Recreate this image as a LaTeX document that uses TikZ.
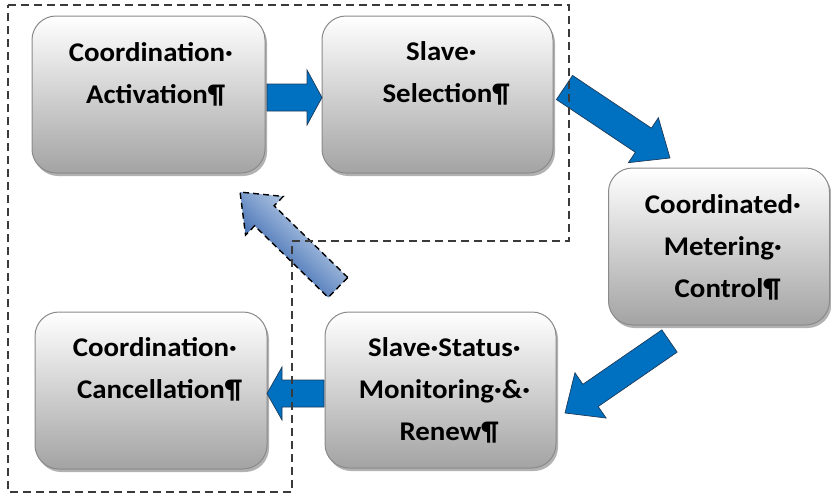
\documentclass[tikz,border=0pt]{standalone}
\usepackage{fontspec}
\setmainfont{Carlito}[FakeStretch=1.07]
\usetikzlibrary{calc,shadows}
\definecolor{arrowblue}{HTML}{0070C0}
\definecolor{arrowline}{HTML}{1F3B5A}
\definecolor{lightblue}{HTML}{E2EEF9}
\definecolor{deepblue}{HTML}{12489E}
\definecolor{boxborder}{HTML}{8A8A8A}
\definecolor{framegray}{HTML}{3A3A3A}
\newcommand{\tl}[1]{#1\rlap{·}}
\newcommand{\pl}[1]{#1\rlap{¶}}
\newcommand{\blockarr}[6]{%
  \path let \p1=($(#2)-(#1)$) in \pgfextra{%
    \pgfmathsetmacro\baang{atan2(\y1,\x1)}%
    \pgfmathsetmacro\balen{veclen(\x1,\y1)}%
    \global\let\baang\baang\global\let\balen\balen};
  \begin{scope}[shift={(#1)}, rotate=\baang]
    \path[#6] (0pt,-#3) -- ({\balen pt-#5},-#3) -- ({\balen pt-#5},-#4)
      -- (\balen pt,0pt) -- ({\balen pt-#5},#4) -- ({\balen pt-#5},#3)
      -- (0pt,#3) -- cycle;
  \end{scope}}
\tikzset{
  procbox/.style={draw=boxborder, line width=1pt, rounded corners=24pt,
    top color=white, bottom color=gray!72, inner sep=0pt,
    drop shadow={shadow xshift=2pt, shadow yshift=-3pt, opacity=0.3, fill=black}},
  boxtext/.style={align=center, font=\bfseries\fontsize{27}{42}\selectfont,
    inner sep=0pt, anchor=base},
  bluearrow/.style={fill=arrowblue, draw=arrowline, line width=0.7pt, line join=miter},
  gradarrow/.style={left color=lightblue, right color=deepblue, shading angle=-44,
    draw=black, line width=1.4pt, dash pattern=on 6pt off 4pt},
  frameline/.style={draw=framegray, line width=1.6pt, dash pattern=on 8pt off 5pt}
}
\begin{document}
\begin{tikzpicture}[x=1pt, y=-1pt]
\useasboundingbox (0,0) rectangle (831,498);
% boxes
\node[procbox, minimum width=233pt, minimum height=157pt] (A) at (148.5,94.5) {};
\node[procbox, minimum width=231pt, minimum height=157pt] (S) at (437.5,94.5) {};
\node[procbox, minimum width=221pt, minimum height=157pt] (C) at (719,246.5) {};
\node[procbox, minimum width=231pt, minimum height=156pt] (M) at (440.5,390) {};
\node[procbox, minimum width=232pt, minimum height=157pt] (X) at (151,390.5) {};
% texts (anchor = baseline of last line)
\node[boxtext] (At) at (147,103) {\tl{Coordination}\\\pl{Activation}};
\node[boxtext] (St) at (437.5,102) {\tl{Slave}\\\pl{Selection}};
\node[boxtext] (Ct) at (719,297) {\tl{Coordinated}\\\tl{Metering}\\\pl{Control}};
\node[boxtext] (Mt) at (440.5,440) {Slave·\tl{Status}\\Monitoring·\tl{\&}\\\pl{Renew}};
\node[boxtext] (Xt) at (151,398) {\tl{Coordination}\\\pl{Cancellation}};
% arrow end points
\coordinate (as1) at (267,97.5);   \coordinate (as2) at (322,97.5);
\coordinate (sc1) at (564.5,87.5); \coordinate (sc2) at (670,158);
\coordinate (cm1) at (669.5,341);  \coordinate (cm2) at (565,413);
\coordinate (mx1) at (324,393.5);  \coordinate (mx2) at (267,393.5);
\coordinate (gr1) at (338,287.5);  \coordinate (gr2) at (240,192);
\blockarr{as1}{as2}{13.5pt}{27.5pt}{15pt}{bluearrow}
\blockarr{sc1}{sc2}{14.5pt}{27pt}{32pt}{bluearrow}
\blockarr{cm1}{cm2}{13.5pt}{27.5pt}{31pt}{bluearrow}
\blockarr{mx1}{mx2}{13.5pt}{26.5pt}{15pt}{bluearrow}
\blockarr{gr1}{gr2}{14pt}{27pt}{34pt}{gradarrow}
% dashed frame
\draw[frameline] (8,5) -- (569,5) -- (569,241) -- (292,241) -- (292,492) -- (8,492) -- cycle;
\end{tikzpicture}
\end{document}
